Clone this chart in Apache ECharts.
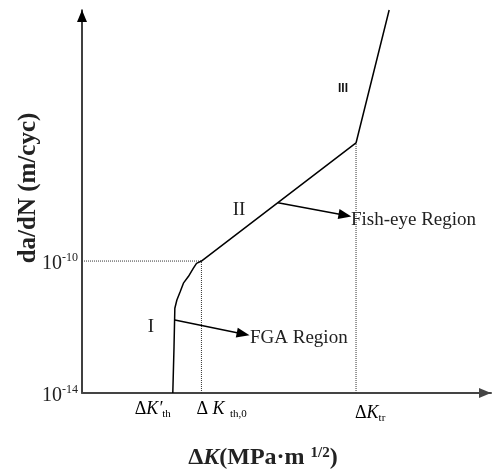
<!DOCTYPE html>
<html>
<head>
<meta charset="utf-8">
<script src="https://cdn.jsdelivr.net/npm/echarts@6/dist/echarts.min.js"></script>
<style>html,body{margin:0;padding:0;background:#fff}#c{width:492px;height:474px}</style>
</head>
<body>
<div id="c"></div>
<script>
// ---- data (ΔK in arbitrary linear units, rate as log10 of da/dN) ----
const curveDK      = [2.22, 2.25, 2.27, 2.32, 2.40, 2.48, 2.60, 2.72, 2.80, 2.92, 6.70, 7.51];
const curveLogRate = [-14, -12.6, -11.43, -11.18, -10.93, -10.67, -10.47, -10.22, -10.07, -10, -6.42, -2.39];
const dKthPrime = 2.22;
const dKth0 = 2.92;
const dKtr = 6.70;
const rateAtTh0 = -10;
const rateAtTr = -6.42;
const yTickValues = [-14, -10];
const xTickValues = [dKthPrime, dKth0, dKtr];
const xTickLabels = ['{d|Δ}{k|K′}{sub|th}', '{d|Δ }{k|K}{sub|  th,0}', '{d|Δ}{k|K}{sub|tr}'];
const fgaArrow  = [[2.27, -11.79], [3.94, -12.21]];
const fishArrow = [[4.79, -8.23], [6.43, -8.61]];

const serif = '"Liberation Serif","Times New Roman",serif';
const chart = echarts.init(document.getElementById('c'), null, {renderer: 'canvas'});

const curveData = curveDK.map((x, i) => [x, curveLogRate[i]]);
const dotted = {type: 'dotted', width: 1, color: '#333'};
const tickRich = {
  d: {fontSize: 18, fontFamily: serif, color: '#222'},
  k: {fontSize: 18, fontStyle: 'italic', fontFamily: serif, color: '#222'},
  sub: {fontSize: 11, fontFamily: serif, color: '#222', padding: [10, 0, 0, 0]}
};
const labelShift = [[-38, 16], [-5, 16], [-1, 20]];

const option = {
  animation: false,
  grid: {left: 82, right: 1, top: 10, bottom: 81, containLabel: false},
  xAxis: {
    type: 'value', min: 0, max: 10,
    splitLine: {show: false},
    axisTick: {show: false},
    axisLine: {show: true, lineStyle: {color: '#444', width: 2},
      symbol: ['none', 'triangle'], symbolSize: [10, 12], symbolOffset: [0, -6]},
    axisLabel: {show: false}
  },
  yAxis: {
    type: 'value', min: -14, max: -2.39,
    splitLine: {show: false},
    axisTick: {show: false},
    axisLine: {show: true, lineStyle: {color: '#000', width: 1.5},
      symbol: ['none', 'triangle'], symbolSize: [10, 12], symbolOffset: [0, -6]},
    axisLabel: {
      customValues: yTickValues, margin: 4, color: '#222',
      formatter: function (v) { return '{b|10}{s|' + v + '}'; },
      rich: {
        b: {fontSize: 20, fontFamily: serif, color: '#222', padding: [6, 0, 0, 0]},
        s: {fontSize: 12, fontFamily: serif, color: '#222', padding: [0, 0, 6, 0]}
      }
    }
  },
  series: [
    {type: 'line', data: [[0, rateAtTh0], [dKth0, rateAtTh0]], symbol: 'none', lineStyle: dotted, silent: true},
    {type: 'line', data: [[dKth0, -14], [dKth0, rateAtTh0]], symbol: 'none', lineStyle: dotted, silent: true},
    {type: 'line', data: [[dKtr, -14], [dKtr, rateAtTr]], symbol: 'none', lineStyle: dotted, silent: true},
    {
      type: 'line', data: curveData, symbol: 'none', clip: false,
      lineStyle: {color: '#000', width: 1.5},
      markLine: {
        silent: true, animation: false,
        symbol: ['none', 'triangle'], symbolSize: [10, 13],
        label: {show: false},
        lineStyle: {color: '#000', width: 1.5, type: 'solid'},
        data: [
          [{coord: fgaArrow[0]}, {coord: fgaArrow[1]}],
          [{coord: fishArrow[0]}, {coord: fishArrow[1]}]
        ]
      }
    }
  ],
  graphic: [
    {type: 'text', x: 151, y: 327, style: {text: 'I', font: '19px ' + serif, fill: '#222', align: 'center', verticalAlign: 'middle'}},
    {type: 'text', x: 239, y: 210, style: {text: 'II', font: '19px ' + serif, fill: '#222', align: 'center', verticalAlign: 'middle'}},
    {type: 'text', x: 343, y: 89, style: {text: 'III', font: 'bold 12px "Liberation Sans",Arial,sans-serif', fill: '#111', align: 'center', verticalAlign: 'middle'}},
    {type: 'text', x: 250, y: 338, style: {text: 'FGA Region', font: '19px ' + serif, fill: '#222', align: 'left', verticalAlign: 'middle'}},
    {type: 'text', x: 351, y: 220, style: {text: 'Fish-eye Region', font: '19px ' + serif, fill: '#222', align: 'left', verticalAlign: 'middle'}},
    {type: 'text', x: 29, y: 188, rotation: Math.PI / 2,
      style: {text: 'da/dN (m/cyc)', font: 'bold 25px ' + serif, fill: '#222', align: 'center', verticalAlign: 'middle'}},
    {type: 'text', x: 263, y: 458,
      style: {
        text: '{a|Δ}{k|K}{a|(MPa·m }{s|1/2}{a|)}', align: 'center', verticalAlign: 'middle',
        rich: {
          a: {font: 'bold 24px ' + serif, fill: '#222'},
          k: {font: 'italic bold 24px ' + serif, fill: '#222'},
          s: {font: 'bold 15px ' + serif, fill: '#222', padding: [0, 0, 10, 0]}
        }
      }}
  ]
};
chart.setOption(option);

// x tick labels placed at the axis positions of the tick values
const tickGraphics = xTickValues.map(function (v, i) {
  const p = chart.convertToPixel({gridIndex: 0}, [v, -14]);
  return {
    type: 'text', x: p[0] + labelShift[i][0], y: p[1] + labelShift[i][1],
    style: {text: xTickLabels[i], rich: tickRich, align: 'left', verticalAlign: 'middle'}
  };
});
chart.setOption({graphic: option.graphic.concat(tickGraphics)});
</script>
</body>
</html>
